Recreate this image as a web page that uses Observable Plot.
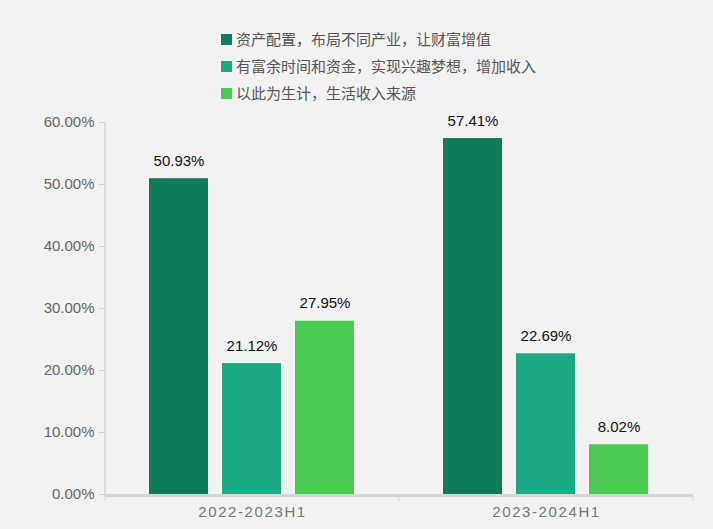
<!DOCTYPE html>
<html>
<head>
<meta charset="utf-8">
<script src="https://cdn.jsdelivr.net/npm/d3@7"></script>
<script src="https://cdn.jsdelivr.net/npm/@observablehq/plot@0.6"></script>
<style>
  html, body { margin: 0; padding: 0; background: #f2f2f2; }
  #wrap { position: relative; width: 713px; height: 529px; background: #f2f2f2; overflow: hidden; }
  #legend { position: absolute; left: 221px; top: 0; font-family: "Noto Sans CJK SC", sans-serif; font-size: 15px; color: #555; }
  .item { position: absolute; left: 0; white-space: nowrap; height: 20px; line-height: 20px; }
  .sw { position: absolute; left: 0; top: 4px; width: 11px; height: 11px; }
  .lbl { position: absolute; left: 15px; top: -1px; }
  svg { position: absolute; left: 0; top: 0; }
</style>
</head>
<body>
<div id="wrap"><div id="legend"></div></div>
<script>
const periods = ["2022-2023H1", "2023-2024H1"];
const categories = ["资产配置，布局不同产业，让财富增值", "有富余时间和资金，实现兴趣梦想，增加收入", "以此为生计，生活收入来源"];
const values2022 = [50.93, 21.12, 27.95];
const values2023 = [57.41, 22.69, 8.02];
const yTicks = [0, 10, 20, 30, 40, 50, 60];
const colors = ["#0f7b5b", "#1ba882", "#4ccb52"];

const seriesByPeriod = [values2022, values2023];
const rows = [];
periods.forEach((p, i) => categories.forEach((c, j) => rows.push({period: p, category: c, value: seriesByPeriod[i][j]})));

const legendRowTops = [30, 57, 84];
const legend = document.getElementById("legend");
categories.forEach((c, j) => {
  const it = document.createElement("div");
  it.className = "item";
  it.style.top = legendRowTops[j] + "px";
  it.innerHTML = `<span class="sw" style="background:${colors[j]}"></span><span class="lbl">${c}</span>`;
  legend.appendChild(it);
});

const fontNum = "Liberation Sans, Arial, sans-serif";
const plot = Plot.plot({
  width: 713,
  height: 529,
  marginLeft: 105,
  marginRight: 20,
  marginTop: 122,
  marginBottom: 35,
  style: {background: "transparent", fontFamily: fontNum},
  fx: {domain: periods, padding: 0, label: null},
  x: {domain: categories, paddingInner: 0.19, paddingOuter: 0.595, axis: null},
  y: {domain: [0, 60], label: null, axis: null},
  color: {domain: categories, range: colors},
  marks: [
    Plot.axisY({ticks: yTicks, tickFormat: d => d.toFixed(2) + "%", tickSize: 6, tickPadding: 5, stroke: "#cfcfcf", fill: "#666", fontSize: 15, label: null}),
    Plot.barY(rows, {fx: "period", x: "category", y: "value", fill: "category"}),
    Plot.ruleY([0], {stroke: "#d6d6d6", strokeWidth: 3, dy: 1}),
    Plot.text(rows, {fx: "period", x: "category", y: "value", text: d => d.value.toFixed(2) + "%", lineAnchor: "bottom", dy: -13, fill: "#111", fontSize: 15}),
    Plot.axisFx({anchor: "bottom", tickSize: 0, tickPadding: 12, fill: "#777", fontSize: 15, label: null})
  ]
});

document.getElementById("wrap").appendChild(plot);

// axis line and group-boundary ticks, positioned from the plot's own scales
const svg = d3.select(plot);
const fx = plot.scale("fx");
const y = plot.scale("y");
const y0 = y.apply(0), y60 = y.apply(60);
const left = fx.apply(periods[0]);
svg.append("line").attr("x1", left).attr("x2", left).attr("y1", y60).attr("y2", y0 + 2)
  .attr("stroke", "#d6d6d6").attr("stroke-width", 1.5);
const edges = [left].concat(periods.map(p => fx.apply(p) + fx.bandwidth));
edges.forEach(e => svg.append("line").attr("x1", e).attr("x2", e).attr("y1", y0 + 2).attr("y2", y0 + 7)
  .attr("stroke", "#d6d6d6").attr("stroke-width", 1));
svg.selectAll("g[aria-label='fx-axis tick label'] text").attr("letter-spacing", "1.6px");
</script>
</body>
</html>
